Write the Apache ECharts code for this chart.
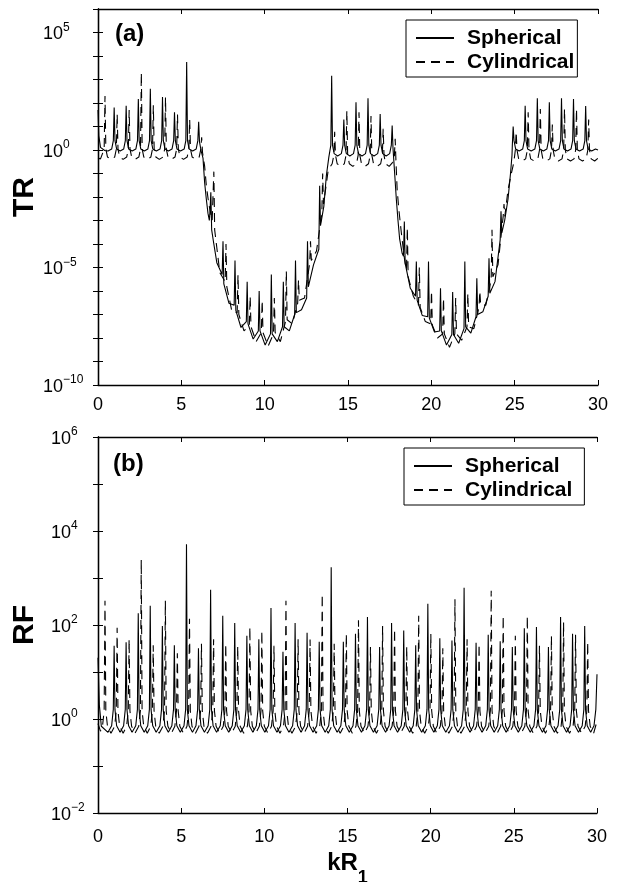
<!DOCTYPE html>
<html><head><meta charset="utf-8">
<script src="https://cdn.jsdelivr.net/npm/echarts@6/dist/echarts.min.js"></script>
<style>html,body{margin:0;padding:0;background:#fff}#c{width:619px;height:882px}</style>
</head><body><div id="c"></div>
<script>
// ---------- tick values ----------
const xTicks = [0, 5, 10, 15, 20, 25, 30];
const trTicks = [1e-10,1e-9,1e-8,1e-7,1e-6,1e-5,1e-4,1e-3,1e-2,1e-1,1,1e1,1e2,1e3,1e4,1e5,1e6];
const trLabels = [1e-10, 1e-5, 1, 1e5];
const rfTicks = [1e-2,1e-1,1,1e1,1e2,1e3,1e4,1e5,1e6];
const rfLabels = [1e-2, 1, 1e2, 1e4, 1e6];
const seriesNames = ['Spherical', 'Cylindrical'];

// ---------- (a) TR, spherical ----------
const trSph = [[0,50],[0.05,4],[0.15,1.3],[0.4,0.95],[0.6,0.9],
[0.82,1.1],[0.92,2.5],[0.97,65],[1.02,2.5],[1.12,1.1],[1.33,0.9],
[1.54,1.1],[1.64,2.5],[1.69,76],[1.74,2.5],[1.84,1.1],[2.05,0.9],
[2.27,1.1],[2.37,2.5],[2.42,148],[2.47,2.5],[2.57,1.1],[2.78,0.9],
[2.99,1.1],[3.09,2.5],[3.14,400],[3.19,2.5],[3.29,1.1],[3.5,0.9],
[3.72,1.1],[3.82,2.5],[3.87,178],[3.92,2.5],[4.02,1.1],[4.23,0.9],
[4.44,1.1],[4.54,2.5],[4.59,40],[4.64,2.5],[4.74,1.1],[4.95,0.9],
[5.17,1.1],[5.27,2.5],[5.32,5500],[5.37,2.5],[5.47,1.1],[5.68,0.9],
[5.89,1.1],[5.99,2.5],[6.04,16],[6.09,2.2],[6.19,0.9],[6.3,0.45],[6.4,0.04],[6.5,8e-3],[6.6,2e-3],[6.68,1e-3],
[6.72,2.5e-3],[6.77,1.6e-2],[6.82,4e-4],[6.95,1e-4],[7.13,1.6e-5],
[7.45,5e-6],[7.5,1.3e-4],[7.55,2e-6],[7.86,3e-7],
[8.17,2.5e-7],[8.22,2e-5],[8.27,1.5e-7],[8.58,2.8e-8],
[8.9,5e-8],[8.95,2.5e-6],[9,4e-8],[9.31,9e-9],
[9.62,2e-8],[9.67,1e-6],[9.72,2e-8],[10.03,5e-9],
[10.35,1.5e-8],[10.4,5e-6],[10.45,1.5e-8],[10.76,7e-9],
[11.07,3e-8],[11.12,2.5e-6],[11.17,3e-8],[11.48,2e-8],
[11.8,1e-7],[11.85,2e-5],[11.9,1.2e-7],[12.21,1.6e-7],
[12.52,5e-7],[12.57,1.3e-4],[12.62,1.5e-6],[12.93,1.3e-5],
[13.25,6e-5],[13.3,3e-2],[13.35,6e-4],[13.55,4e-3],[13.7,8e-2],[13.85,0.5],
[13.97,1.6],[14.02,1450],[14.07,1.6],[14.17,0.7],[14.38,0.56],
[14.6,0.7],[14.7,1.6],[14.75,20],[14.8,1.6],[14.9,0.7],[15.11,0.56],
[15.33,0.7],[15.43,1.6],[15.48,107],[15.53,1.6],[15.63,0.7],[15.84,0.56],
[16.05,0.7],[16.15,1.6],[16.2,158],[16.25,1.6],[16.35,0.7],[16.56,0.56],
[16.78,0.7],[16.88,1.6],[16.93,34],[16.98,1.6],[17.08,0.7],[17.29,0.56],
[17.5,0.7],[17.6,1.6],[17.65,11],[17.7,1.2],[17.8,0.1],[17.9,8e-3],[18,1e-3],[18.1,1.6e-4],[18.25,4e-5],
[18.33,3e-5],[18.38,9e-4],[18.43,1.5e-5],[18.74,1.3e-6],
[19.05,6e-7],[19.1,1.8e-5],[19.15,4e-7],[19.46,9e-8],
[19.78,8e-8],[19.83,1.8e-5],[19.88,7e-8],[20.19,1.8e-8],
[20.5,2e-8],[20.55,1.3e-6],[20.6,2e-8],[20.91,5e-9],
[21.23,1.4e-8],[21.28,9e-7],[21.33,1.4e-8],[21.64,6e-9],
[21.96,2.5e-8],[22.01,1.8e-5],[22.06,3e-8],[22.37,1.6e-8],
[22.68,8e-8],[22.73,3.5e-6],[22.78,1e-7],[23.09,1.3e-7],
[23.41,6e-7],[23.46,2.5e-5],[23.51,8e-7],[23.82,2.5e-6],
[24.13,1.5e-4],[24.18,2.5e-3],[24.23,3e-4],[24.4,1e-3],[24.6,8e-3],[24.75,0.1],[24.84,0.6],
[24.86,1.6],[24.91,10],[24.96,2.5],[25.06,1.1],[25.27,0.9],
[25.48,1.1],[25.58,2.5],[25.63,76],[25.68,2.5],[25.78,1.1],[25.99,0.9],
[26.21,1.1],[26.31,2.5],[26.36,158],[26.41,2.5],[26.51,1.1],[26.72,0.9],
[26.93,1.1],[27.03,2.5],[27.08,107],[27.13,2.5],[27.23,1.1],[27.44,0.9],
[27.66,1.1],[27.76,2.5],[27.81,158],[27.86,2.5],[27.96,1.1],[28.17,0.9],
[28.38,1.1],[28.48,2.5],[28.53,148],[28.58,2.5],[28.68,1.1],[28.89,0.9],
[29.11,1.1],[29.21,2.5],[29.26,74],[29.31,2.5],[29.41,1.1],[29.62,0.9],
[29.85,1.1],[30,1.0]];

// ---------- (a) TR, cylindrical ----------
const trCyl = [[0,0.45],[0.15,0.42],
[0.27,0.5],[0.37,1.1],[0.42,200],[0.47,1.1],[0.57,0.5],[0.78,0.4],
[1.0,0.5],[1.1,1.1],[1.15,34],[1.2,1.1],[1.3,0.5],[1.51,0.4],
[1.72,0.5],[1.82,1.1],[1.87,50],[1.92,1.1],[2.02,0.5],[2.23,0.4],
[2.45,0.5],[2.55,1.1],[2.6,2000],[2.65,1.1],[2.75,0.5],[2.96,0.4],
[3.17,0.5],[3.27,1.1],[3.32,80],[3.37,1.1],[3.47,0.5],[3.68,0.4],
[3.9,0.5],[4.0,1.1],[4.05,178],[4.1,1.1],[4.2,0.5],[4.41,0.4],
[4.62,0.5],[4.72,1.1],[4.77,32],[4.82,1.1],[4.92,0.5],[5.13,0.4],
[5.35,0.5],[5.45,1.1],[5.5,20],[5.55,1.1],[5.65,0.5],[5.86,0.4],
[6.07,0.5],[6.17,1.1],[6.22,3.5],[6.27,0.8],[6.4,0.2],[6.5,3e-2],[6.65,5e-3],[6.85,1e-3],
[6.9,1e-3],[6.95,0.12],[7.0,4e-4],[7.31,6e-6],
[7.63,2.5e-6],[7.68,1e-4],[7.73,1.5e-6],[8.04,1.3e-7],
[8.35,1.2e-7],[8.4,5e-6],[8.45,1e-7],[8.76,2e-8],
[9.08,3.5e-8],[9.13,6e-7],[9.18,3e-8],[9.49,7e-9],
[9.8,1.7e-8],[9.85,4e-7],[9.9,1.7e-8],[10.21,4.5e-9],
[10.53,1.5e-8],[10.58,5e-7],[10.63,1.7e-8],[10.94,7e-9],
[11.25,5e-8],[11.3,7e-6],[11.35,6e-8],[11.66,4e-8],
[11.98,3e-7],[12.03,3e-6],[12.08,4e-7],[12.39,5e-7],
[12.7,1.5e-5],[12.75,1.3e-4],[12.8,2e-5],[13.11,5e-5],
[13.43,2e-3],[13.48,0.1],[13.53,5e-3],[13.65,2e-2],[13.8,0.12],[13.95,0.2],
[14.05,0.26],[14.15,0.6],[14.2,6],[14.25,0.6],[14.35,0.26],[14.56,0.2],
[14.78,0.26],[14.88,0.6],[14.93,47],[14.98,0.6],[15.08,0.26],[15.29,0.2],
[15.51,0.26],[15.61,0.6],[15.66,40],[15.71,0.6],[15.81,0.26],[16.02,0.2],
[16.23,0.26],[16.33,0.6],[16.38,28],[16.43,0.6],[16.53,0.26],[16.74,0.2],
[16.96,0.26],[17.06,0.6],[17.11,8],[17.16,0.6],[17.26,0.26],[17.47,0.2],
[17.68,0.3],[17.78,0.5],[17.83,3],[17.88,0.3],[17.95,2e-2],[18.05,3e-3],[18.2,3e-4],[18.4,2e-5],
[18.51,8e-6],[18.56,5e-4],[18.61,4e-6],[18.92,6e-7],
[19.23,2.5e-7],[19.28,1e-5],[19.33,2e-7],[19.64,5e-8],
[19.96,4e-8],[20.01,1e-6],[20.06,3.5e-8],[20.37,1e-8],
[20.68,1.5e-8],[20.73,5e-7],[20.78,1.5e-8],[21.09,4e-9],
[21.41,1.5e-8],[21.46,5e-7],[21.51,1.5e-8],[21.82,8e-9],
[22.14,3e-8],[22.19,8e-7],[22.24,3e-8],[22.55,2.5e-8],
[22.86,2e-7],[22.91,1e-6],[22.96,2.5e-7],[23.27,2.5e-7],
[23.59,3e-6],[23.64,4e-4],[23.69,4e-6],[24,1.3e-5],
[24.31,1.5e-3],[24.36,5e-3],[24.41,1.5e-3],[24.6,2e-2],[24.8,0.1],[24.95,0.3],
[25.04,1],[25.09,6],[25.14,1],[25.24,0.42],[25.45,0.34],
[25.66,0.42],[25.76,1],[25.81,40],[25.86,1],[25.96,0.42],[26.17,0.34],
[26.39,0.42],[26.49,1],[26.54,56],[26.59,1],[26.69,0.42],[26.9,0.34],
[27.11,0.42],[27.21,1],[27.26,12],[27.31,1],[27.41,0.42],[27.62,0.34],
[27.84,0.42],[27.94,1],[27.99,56],[28.04,1],[28.14,0.42],[28.35,0.34],
[28.56,0.42],[28.66,1],[28.71,56],[28.76,1],[28.86,0.42],[29.07,0.34],
[29.29,0.42],[29.39,1],[29.44,20],[29.49,1],[29.59,0.42],[29.8,0.34],
[30,0.45]];

// ---------- (b) RF, spherical ----------
const rfSph = [[0,20],[0.08,2],[0.2,0.7],[0.6,0.52],
[0.82,0.72],[0.92,1.6],[0.97,36],[1.02,1.6],[1.12,0.72],[1.33,0.52],
[1.54,0.72],[1.64,1.6],[1.69,43],[1.74,1.6],[1.84,0.72],[2.05,0.52],
[2.27,0.72],[2.37,1.6],[2.42,178],[2.47,1.6],[2.57,0.72],[2.78,0.52],
[2.99,0.72],[3.09,1.6],[3.14,257],[3.19,1.6],[3.29,0.72],[3.5,0.52],
[3.72,0.72],[3.82,1.6],[3.87,95],[3.92,1.6],[4.02,0.72],[4.23,0.52],
[4.44,0.72],[4.54,1.6],[4.59,37],[4.64,1.6],[4.74,0.72],[4.95,0.52],
[5.17,0.72],[5.27,1.6],[5.32,5250],[5.37,1.6],[5.47,0.72],[5.68,0.52],
[5.89,0.72],[5.99,1.6],[6.04,32],[6.09,1.6],[6.19,0.72],[6.4,0.52],
[6.62,0.72],[6.72,1.6],[6.77,562],[6.82,1.6],[6.92,0.72],[7.13,0.52],
[7.35,0.72],[7.45,1.6],[7.5,158],[7.55,1.6],[7.65,0.72],[7.86,0.52],
[8.07,0.72],[8.17,1.6],[8.22,110],[8.27,1.6],[8.37,0.72],[8.58,0.52],
[8.8,0.72],[8.9,1.6],[8.95,59],[9,1.6],[9.1,0.72],[9.31,0.52],
[9.52,0.72],[9.62,1.6],[9.67,50],[9.72,1.6],[9.82,0.72],[10.03,0.52],
[10.25,0.72],[10.35,1.6],[10.4,229],[10.45,1.6],[10.55,0.72],[10.76,0.52],
[10.97,0.72],[11.07,1.6],[11.12,27],[11.17,1.6],[11.27,0.72],[11.48,0.52],
[11.7,0.72],[11.8,1.6],[11.85,110],[11.9,1.6],[12,0.72],[12.21,0.52],
[12.42,0.72],[12.52,1.6],[12.57,68],[12.62,1.6],[12.72,0.72],[12.93,0.52],
[13.15,0.72],[13.25,1.6],[13.3,44],[13.35,1.6],[13.45,0.72],[13.66,0.52],
[13.87,0.72],[13.97,1.6],[14.02,1700],[14.07,1.6],[14.17,0.72],[14.38,0.52],
[14.6,0.72],[14.7,1.6],[14.75,44],[14.8,1.6],[14.9,0.72],[15.11,0.52],
[15.33,0.72],[15.43,1.6],[15.48,65],[15.53,1.6],[15.63,0.72],[15.84,0.52],
[16.05,0.72],[16.15,1.6],[16.2,148],[16.25,1.6],[16.35,0.72],[16.56,0.52],
[16.78,0.72],[16.88,1.6],[16.93,34],[16.98,1.6],[17.08,0.72],[17.29,0.52],
[17.5,0.72],[17.6,1.6],[17.65,110],[17.7,1.6],[17.8,0.72],[18.01,0.52],
[18.23,0.72],[18.33,1.6],[18.38,76],[18.43,1.6],[18.53,0.72],[18.74,0.52],
[18.95,0.72],[19.05,1.6],[19.1,37],[19.15,1.6],[19.25,0.72],[19.46,0.52],
[19.68,0.72],[19.78,1.6],[19.83,282],[19.88,1.6],[19.98,0.72],[20.19,0.52],
[20.4,0.72],[20.5,1.6],[20.55,52],[20.6,1.6],[20.7,0.72],[20.91,0.52],
[21.13,0.72],[21.23,1.6],[21.28,47],[21.33,1.6],[21.43,0.72],[21.64,0.52],
[21.86,0.72],[21.96,1.6],[22.01,617],[22.06,1.6],[22.16,0.72],[22.37,0.52],
[22.58,0.72],[22.68,1.6],[22.73,42],[22.78,1.6],[22.88,0.72],[23.09,0.52],
[23.31,0.72],[23.41,1.6],[23.46,62],[23.51,1.6],[23.61,0.72],[23.82,0.52],
[24.03,0.72],[24.13,1.6],[24.18,45],[24.23,1.6],[24.33,0.72],[24.54,0.52],
[24.76,0.72],[24.86,1.6],[24.91,34],[24.96,1.6],[25.06,0.72],[25.27,0.52],
[25.48,0.72],[25.58,1.6],[25.63,85],[25.68,1.6],[25.78,0.72],[25.99,0.52],
[26.21,0.72],[26.31,1.6],[26.36,91],[26.41,1.6],[26.51,0.72],[26.72,0.52],
[26.93,0.72],[27.03,1.6],[27.08,34],[27.13,1.6],[27.23,0.72],[27.44,0.52],
[27.66,0.72],[27.76,1.6],[27.81,148],[27.86,1.6],[27.96,0.72],[28.17,0.52],
[28.38,0.72],[28.48,1.6],[28.53,65],[28.58,1.6],[28.68,0.72],[28.89,0.52],
[29.11,0.72],[29.21,1.6],[29.26,95],[29.31,1.6],[29.41,0.72],[29.62,0.52],
[29.82,0.72],[29.93,1.6],[30,9]];

// ---------- (b) RF, cylindrical ----------
const rfCyl = [[0,0.8],[0.15,0.55],
[0.27,0.7],[0.37,1.5],[0.42,330],[0.47,1.5],[0.57,0.7],[0.78,0.5],
[1.0,0.7],[1.1,1.5],[1.15,87],[1.2,1.5],[1.3,0.7],[1.51,0.5],
[1.72,0.7],[1.82,1.5],[1.87,50],[1.92,1.5],[2.02,0.7],[2.23,0.5],
[2.45,0.7],[2.55,1.5],[2.6,2450],[2.65,1.5],[2.75,0.7],[2.96,0.5],
[3.17,0.7],[3.27,1.5],[3.32,37],[3.37,1.5],[3.47,0.7],[3.68,0.5],
[3.9,0.7],[4.0,1.5],[4.05,330],[4.1,1.5],[4.2,0.7],[4.41,0.5],
[4.62,0.7],[4.72,1.5],[4.77,25],[4.82,1.5],[4.92,0.7],[5.13,0.5],
[5.35,0.7],[5.45,1.5],[5.5,135],[5.55,1.5],[5.65,0.7],[5.86,0.5],
[6.07,0.7],[6.17,1.5],[6.22,40],[6.27,1.5],[6.37,0.7],[6.58,0.5],
[6.8,0.7],[6.9,1.5],[6.95,50],[7.0,1.5],[7.1,0.7],[7.31,0.5],
[7.53,0.7],[7.63,1.5],[7.68,40],[7.73,1.5],[7.83,0.7],[8.04,0.5],
[8.25,0.7],[8.35,1.5],[8.4,36],[8.45,1.5],[8.55,0.7],[8.76,0.5],
[8.98,0.7],[9.08,1.5],[9.13,91],[9.18,1.5],[9.28,0.7],[9.49,0.5],
[9.7,0.7],[9.8,1.5],[9.85,76],[9.9,1.5],[10,0.7],[10.21,0.5],
[10.43,0.7],[10.53,1.5],[10.58,36],[10.63,1.5],[10.73,0.7],[10.94,0.5],
[11.15,0.7],[11.25,1.5],[11.3,330],[11.35,1.5],[11.45,0.7],[11.66,0.5],
[11.88,0.7],[11.98,1.5],[12.03,50],[12.08,1.5],[12.18,0.7],[12.39,0.5],
[12.6,0.7],[12.7,1.5],[12.75,49],[12.8,1.5],[12.9,0.7],[13.11,0.5],
[13.33,0.7],[13.43,1.5],[13.48,457],[13.53,1.5],[13.63,0.7],[13.84,0.5],
[14.05,0.7],[14.15,1.5],[14.2,40],[14.25,1.5],[14.35,0.7],[14.56,0.5],
[14.78,0.7],[14.88,1.5],[14.93,65],[14.98,1.5],[15.08,0.7],[15.29,0.5],
[15.51,0.7],[15.61,1.5],[15.66,126],[15.71,1.5],[15.81,0.7],[16.02,0.5],
[16.23,0.7],[16.33,1.5],[16.38,34],[16.43,1.5],[16.53,0.7],[16.74,0.5],
[16.96,0.7],[17.06,1.5],[17.11,95],[17.16,1.5],[17.26,0.7],[17.47,0.5],
[17.68,0.7],[17.78,1.5],[17.83,83],[17.88,1.5],[17.98,0.7],[18.19,0.5],
[18.41,0.7],[18.51,1.5],[18.56,35],[18.61,1.5],[18.71,0.7],[18.92,0.5],
[19.13,0.7],[19.23,1.5],[19.28,158],[19.33,1.5],[19.43,0.7],[19.64,0.5],
[19.86,0.7],[19.96,1.5],[20.01,65],[20.06,1.5],[20.16,0.7],[20.37,0.5],
[20.58,0.7],[20.68,1.5],[20.73,32],[20.78,1.5],[20.88,0.7],[21.09,0.5],
[21.31,0.7],[21.41,1.5],[21.46,355],[21.51,1.5],[21.61,0.7],[21.82,0.5],
[22.04,0.7],[22.14,1.5],[22.19,50],[22.24,1.5],[22.34,0.7],[22.55,0.5],
[22.76,0.7],[22.86,1.5],[22.91,40],[22.96,1.5],[23.06,0.7],[23.27,0.5],
[23.49,0.7],[23.59,1.5],[23.64,537],[23.69,1.5],[23.79,0.7],[24,0.5],
[24.21,0.7],[24.31,1.5],[24.36,158],[24.41,1.5],[24.51,0.7],[24.72,0.5],
[24.94,0.7],[25.04,1.5],[25.09,59],[25.14,1.5],[25.24,0.7],[25.45,0.5],
[25.66,0.7],[25.76,1.5],[25.81,158],[25.86,1.5],[25.96,0.7],[26.17,0.5],
[26.39,0.7],[26.49,1.5],[26.54,36],[26.59,1.5],[26.69,0.7],[26.9,0.5],
[27.11,0.7],[27.21,1.5],[27.26,59],[27.31,1.5],[27.41,0.7],[27.62,0.5],
[27.84,0.7],[27.94,1.5],[27.99,115],[28.04,1.5],[28.14,0.7],[28.35,0.5],
[28.56,0.7],[28.66,1.5],[28.71,62],[28.76,1.5],[28.86,0.7],[29.07,0.5],
[29.29,0.7],[29.39,1.5],[29.44,44],[29.49,1.5],[29.59,0.7],[29.8,0.5],
[30,0.9]];

// ---------- chart ----------
const FONT = '"Liberation Sans", Arial, Helvetica, sans-serif';
function expLabel(v) {
  const e = Math.round(Math.log10(v));
  return '{b|10}{s|' + (e < 0 ? '\u2212' + (-e) : e) + '}';
}
const expRich = {
  b: { fontSize: 18, fontFamily: FONT, color: '#000', lineHeight: 22, verticalAlign: 'bottom' },
  s: { fontSize: 12, fontFamily: FONT, color: '#000', verticalAlign: 'top' }
};
const axisLineStyle = { show: true, lineStyle: { color: '#000', width: 1.3 } };
const tick = { show: true, inside: true, length: 5, lineStyle: { color: '#000', width: 1 } };

function xAxes(gridIndex, labelMargin, withName) {
  const base = {
    gridIndex, type: 'value', min: 0, max: 30, interval: 5,
    axisLine: axisLineStyle, splitLine: { show: false },
    axisTick: Object.assign({ customValues: xTicks }, tick)
  };
  const bottom = Object.assign({}, base, {
    position: 'bottom',
    axisLabel: { customValues: xTicks, fontSize: 18, fontFamily: FONT, color: '#000', margin: labelMargin }
  });
  if (withName) {
    Object.assign(bottom, {
      name: '{k|kR}{u|1}', nameLocation: 'middle', nameGap: 38, nameMoveOverlap: false,
      nameTextStyle: { rich: {
        k: { fontSize: 24, fontWeight: 'bold', fontFamily: FONT, color: '#000', lineHeight: 26, verticalAlign: 'top' },
        u: { fontSize: 18, fontWeight: 'bold', fontFamily: FONT, color: '#000', lineHeight: 36, verticalAlign: 'bottom' }
      } }
    });
  }
  const top = Object.assign({}, base, { position: 'top', axisLabel: { show: false } });
  return [bottom, top];
}
function yAxes(gridIndex, lo, hi, ticks, labels, margin, name) {
  const base = {
    gridIndex, type: 'log', logBase: 10, min: lo, max: hi,
    axisLine: axisLineStyle, splitLine: { show: false },
    axisTick: Object.assign({ customValues: ticks }, tick)
  };
  const left = Object.assign({}, base, {
    position: 'left',
    name, nameLocation: 'middle', nameGap: 58, nameRotate: 90, nameMoveOverlap: false,
    nameTextStyle: { fontSize: 30, fontWeight: 'bold', fontFamily: FONT, color: '#000' },
    axisLabel: { customValues: labels, formatter: expLabel, rich: expRich, align: 'left', margin }
  });
  const right = Object.assign({}, base, { position: 'right', axisLabel: { show: false } });
  return [left, right];
}
function legendAt(left, top, padR) {
  return {
    data: seriesNames, orient: 'vertical', left, top,
    itemWidth: 38, itemHeight: 14, itemGap: 2,
    padding: [7, padR, 4, 9],
    backgroundColor: '#fff', borderColor: '#000', borderWidth: 1,
    itemStyle: { opacity: 0, borderWidth: 0 },
    textStyle: { fontSize: 21, fontWeight: 'bold', fontFamily: FONT, color: '#000', lineHeight: 22, padding: [0, 0, 0, 8] }
  };
}
function line(name, data, xi, yi, dashed) {
  return {
    name, type: 'line', data, xAxisIndex: xi, yAxisIndex: yi,
    showSymbol: false, symbol: 'none', silent: true, clip: true,
    lineStyle: { color: '#000', width: 1.1, type: dashed ? [9, 6] : 'solid' },
    itemStyle: { color: '#000' }
  };
}

const chart = echarts.init(document.getElementById('c'), null, { renderer: 'canvas' });
chart.setOption({
  animation: false,
  backgroundColor: '#fff',
  grid: [
    { left: 98, top: 9, width: 500, height: 376, containLabel: false, outerBoundsMode: 'none' },
    { left: 98, top: 437, width: 499, height: 376, containLabel: false, outerBoundsMode: 'none' }
  ],
  xAxis: [].concat(xAxes(0, 11, false), xAxes(1, 15, true)),
  yAxis: [].concat(
    yAxes(0, 1e-10, 1e6, trTicks, trLabels, 55, 'TR'),
    yAxes(1, 1e-2, 1e6, rfTicks, rfLabels, 47, 'RF')
  ),
  legend: [legendAt(406, 20, 3), legendAt(404, 448, 12)],
  graphic: [
    { type: 'text', left: 115, top: 22, style: { text: '(a)', font: 'bold 24px ' + FONT, fill: '#000' } },
    { type: 'text', left: 113, top: 452, style: { text: '(b)', font: 'bold 24px ' + FONT, fill: '#000' } }
  ],
  series: [
    line('Spherical', trSph, 0, 0, false),
    line('Cylindrical', trCyl, 0, 0, true),
    line('Spherical', rfSph, 2, 2, false),
    line('Cylindrical', rfCyl, 2, 2, true)
  ]
});
</script>
</body></html>
